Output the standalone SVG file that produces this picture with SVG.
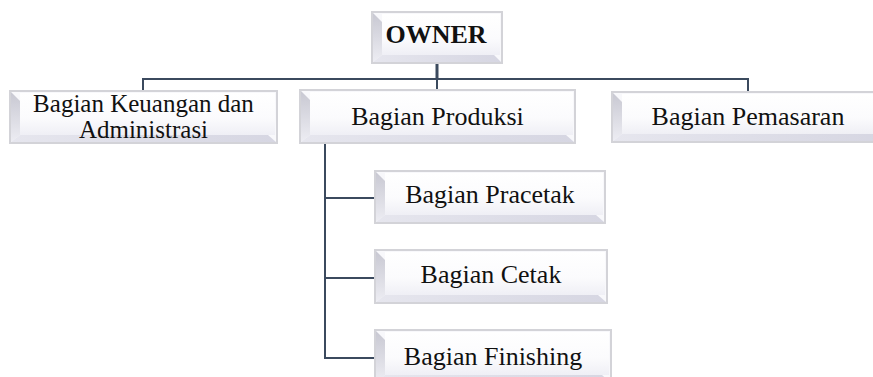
<svg xmlns="http://www.w3.org/2000/svg" width="873" height="377" viewBox="0 0 873 377">
<defs>
<linearGradient id="face" x1="0" y1="0" x2="0" y2="1">
<stop offset="0" stop-color="#ffffff"/>
<stop offset="0.6" stop-color="#fbfbfd"/>
<stop offset="1" stop-color="#efeff5"/>
</linearGradient>
<linearGradient id="lb" x1="0" y1="0" x2="0" y2="1">
<stop offset="0" stop-color="#c8c8d2"/>
<stop offset="1" stop-color="#ededf3"/>
</linearGradient>
<linearGradient id="bb" x1="0" y1="0" x2="1" y2="0">
<stop offset="0" stop-color="#e6e6ee"/>
<stop offset="1" stop-color="#d6d6e2"/>
</linearGradient>
<style>
.outer{fill:#f8f8fb;stroke:#d3d3d8;stroke-width:2}
.face{fill:url(#face)}
.lb{fill:url(#lb)}
.bb{fill:url(#bb)}
.t{font-family:"Liberation Serif","Times New Roman",serif;font-size:26px;fill:#111;text-anchor:middle}
.b{font-weight:bold}
.c{fill:none;stroke:#3b4a5e;stroke-width:2}
</style>
</defs>
<g id="connectors">
<path class="c" d="M437 63V79" style="stroke-width:3"/>
<path class="c" d="M143 91V79H748V92"/>
<path class="c" d="M437 79V90"/>
<path class="c" d="M325 143V358H375"/>
<path class="c" d="M325 198H375"/>
<path class="c" d="M325 278H375"/>
</g>
<g id="owner">
<rect class="outer" x="372" y="12" width="130" height="51"/>
<rect class="face" x="382" y="14" width="118" height="41"/>
<polygon class="lb" points="373,13 382,22 382,55 373,62"/>
<polygon class="bb" points="373,62 382,55 494,55 501,62"/>
<text class="t b" x="436" y="43">OWNER</text>
</g>
<g id="keuangan">
<rect class="outer" x="10" y="91" width="267" height="52"/>
<rect class="face" x="20" y="93" width="255" height="42"/>
<polygon class="lb" points="11,92 20,101 20,135 11,142"/>
<polygon class="bb" points="11,142 20,135 268,135 276,142"/>
<text class="t" x="143.5" y="112" style="font-size:25px">Bagian Keuangan dan</text>
<text class="t" x="143.5" y="138" style="font-size:25px">Administrasi</text>
</g>
<g id="produksi">
<rect class="outer" x="300" y="90" width="275" height="53"/>
<rect class="face" x="310" y="92" width="263" height="43"/>
<polygon class="lb" points="301,91 310,100 310,135 301,142"/>
<polygon class="bb" points="301,142 310,135 566,135 574,142"/>
<text class="t" x="437.5" y="125">Bagian Produksi</text>
</g>
<g id="pemasaran">
<rect class="outer" x="612" y="92" width="275" height="50"/>
<rect class="face" x="622" y="94" width="263" height="40"/>
<polygon class="lb" points="613,93 622,102 622,134 613,141"/>
<polygon class="bb" points="613,141 622,134 878,134 886,141"/>
<text class="t" x="748" y="125">Bagian Pemasaran</text>
</g>
<g id="pracetak">
<rect class="outer" x="375" y="171" width="230" height="52"/>
<rect class="face" x="385" y="173" width="218" height="42"/>
<polygon class="lb" points="376,172 385,181 385,215 376,222"/>
<polygon class="bb" points="376,222 385,215 596,215 604,222"/>
<text class="t" x="490" y="203">Bagian Pracetak</text>
</g>
<g id="cetak">
<rect class="outer" x="375" y="250" width="232" height="53"/>
<rect class="face" x="385" y="252" width="220" height="43"/>
<polygon class="lb" points="376,251 385,260 385,295 376,302"/>
<polygon class="bb" points="376,302 385,295 598,295 606,302"/>
<text class="t" x="491" y="283">Bagian Cetak</text>
</g>
<g id="finishing">
<rect class="outer" x="375" y="330" width="236" height="53"/>
<rect class="face" x="385" y="332" width="224" height="43"/>
<polygon class="lb" points="376,331 385,340 385,375 376,382"/>
<polygon class="bb" points="376,382 385,375 602,375 610,382"/>
<text class="t" x="493" y="365">Bagian Finishing</text>
</g>
</svg>
